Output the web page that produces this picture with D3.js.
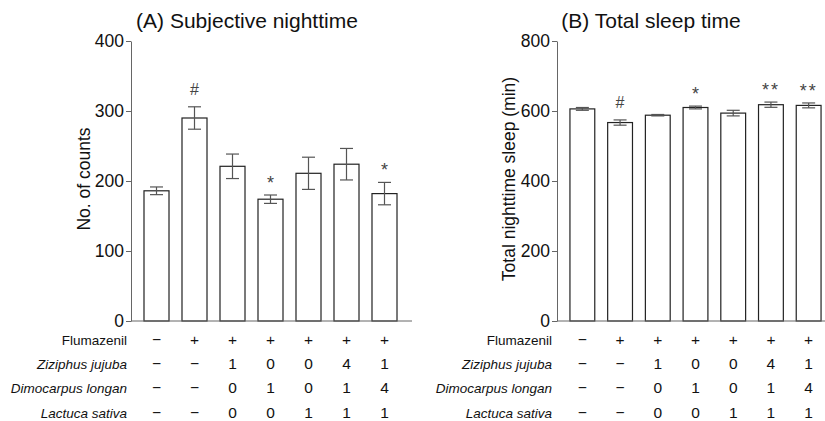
<!DOCTYPE html>
<html>
<head>
<meta charset="utf-8">
<script src="https://cdn.jsdelivr.net/npm/d3@7"></script>
<style>
  body { margin: 0; background: #fff; }
  text { font-family: "Liberation Sans", Arial, sans-serif; fill: #111; }
  .axis path, .axis line { stroke: #666; }
  .axis text { font-size: 17.5px; fill: #111; }
</style>
</head>
<body>
<div id="chart"></div>
<script>
// ── DATA ───────────────────────────────────────────────────────
const groups = ["g1", "g2", "g3", "g4", "g5", "g6", "g7"];

const countsMean = [186, 290, 221, 174, 211, 224, 182];
const countsErr  = [5.5, 16, 17.5, 6, 23, 22.5, 16];
const countsMark = ["", "#", "", "*", "", "", "*"];

const sleepMean = [606, 567, 588, 610, 594, 618, 616];
const sleepErr  = [4, 7.5, 2, 4, 8, 7.5, 7];
const sleepMark = ["", "#", "", "*", "", "**", "**"];

const rowLabels = ["Flumazenil", "Ziziphus jujuba", "Dimocarpus longan", "Lactuca sativa"];
const rowItalic = [false, true, true, true];
const rowValues = [
  ["−", "+", "+", "+", "+", "+", "+"],
  ["−", "−", "1", "0", "0", "4", "1"],
  ["−", "−", "0", "1", "0", "1", "4"],
  ["−", "−", "0", "0", "1", "1", "1"]
];

// ── SVG ────────────────────────────────────────────────────────
const svg = d3.select("#chart")
  .append("svg")
    .attr("width", 825)
    .attr("height", 421);

// one panel = axis + bars + error bars + marks + treatment table
function drawPanel(opt) {
  const g = svg.append("g");

  const x = d3.scaleBand()
    .domain(groups)
    .range([opt.x0, opt.x1])
    .paddingInner(0.342)
    .paddingOuter(0.171);

  const y = d3.scaleLinear()
    .domain([0, opt.max])
    .range([321, 41]);

  // bars
  g.selectAll(".bar")
    .data(opt.mean)
    .join("rect")
      .attr("x", (d, i) => x(groups[i]))
      .attr("y", d => y(d))
      .attr("width", x.bandwidth())
      .attr("height", d => y(0) - y(d))
      .attr("fill", "#fff")
      .attr("stroke", "#222")
      .attr("stroke-width", 1.2);

  // error bars (drawn through the bar top)
  const cx = i => x(groups[i]) + x.bandwidth() / 2;
  const eb = g.selectAll(".err")
    .data(opt.mean.map((m, i) => ({ m, e: opt.err[i], i })))
    .join("g")
      .attr("stroke", "#555")
      .attr("stroke-width", 1.2);
  eb.append("line")
    .attr("x1", d => cx(d.i)).attr("x2", d => cx(d.i))
    .attr("y1", d => y(d.m - d.e)).attr("y2", d => y(d.m + d.e));
  eb.append("line")
    .attr("x1", d => cx(d.i) - 6.5).attr("x2", d => cx(d.i) + 6.5)
    .attr("y1", d => y(d.m + d.e)).attr("y2", d => y(d.m + d.e));
  eb.append("line")
    .attr("x1", d => cx(d.i) - 6.5).attr("x2", d => cx(d.i) + 6.5)
    .attr("y1", d => y(d.m - d.e)).attr("y2", d => y(d.m - d.e));

  // significance marks
  g.selectAll(".mark")
    .data(opt.marks)
    .join("text")
      .attr("x", (d, i) => cx(i))
      .attr("y", (d, i) => y(opt.mean[i] + opt.err[i]) - (d === "#" ? 12 : 6))
      .attr("text-anchor", "middle")
      .attr("font-size", d => d === "#" ? "16px" : "18px")
      .attr("letter-spacing", d => d === "**" ? "2px" : null)
      .style("fill", "#444")
      .text(d => d);

  // axes
  g.append("g")
    .attr("class", "axis")
    .attr("transform", `translate(${opt.axisX},0)`)
    .call(d3.axisLeft(y).ticks(4).tickSize(5).tickPadding(2).tickSizeOuter(0));

  g.append("line")
    .attr("x1", opt.axisX).attr("x2", opt.axisEnd)
    .attr("y1", y(0)).attr("y2", y(0))
    .attr("stroke", "#666");

  // y label
  g.append("text")
    .attr("transform", "rotate(-90)")
    .attr("x", -opt.labelY)
    .attr("y", opt.labelX)
    .attr("text-anchor", "middle")
    .attr("font-size", "17.5px")
    .text(opt.ylabel);

  // title
  g.append("text")
    .attr("x", opt.titleX)
    .attr("y", 28)
    .attr("text-anchor", "middle")
    .attr("font-size", "21px")
    .text(opt.title);

  // treatment table
  const rowY = [345, 369, 393, 418];
  rowLabels.forEach((lab, r) => {
    g.append("text")
      .attr("x", opt.tableLabelX)
      .attr("y", rowY[r])
      .attr("text-anchor", "end")
      .attr("font-size", "13.5px")
      .attr("font-style", rowItalic[r] ? "italic" : "normal")
      .text(lab);
    g.selectAll(".cell" + r)
      .data(rowValues[r])
      .join("text")
        .attr("x", (d, i) => cx(i))
        .attr("y", rowY[r])
        .attr("text-anchor", "middle")
        .attr("font-size", "15.5px")
        .text(d => d);
  });
}

drawPanel({
  x0: 137.5, x1: 403.5, axisX: 131, axisEnd: 412, max: 400,
  mean: countsMean, err: countsErr, marks: countsMark,
  ylabel: "No. of counts", labelX: 90, labelY: 179,
  title: "(A) Subjective nighttime", titleX: 247, tableLabelX: 127
});

drawPanel({
  x0: 563.5, x1: 827.5, axisX: 557, axisEnd: 825, max: 800,
  mean: sleepMean, err: sleepErr, marks: sleepMark,
  ylabel: "Total nighttime sleep (min)", labelX: 515, labelY: 179,
  title: "(B) Total sleep time", titleX: 651, tableLabelX: 552
});
</script>
</body>
</html>
